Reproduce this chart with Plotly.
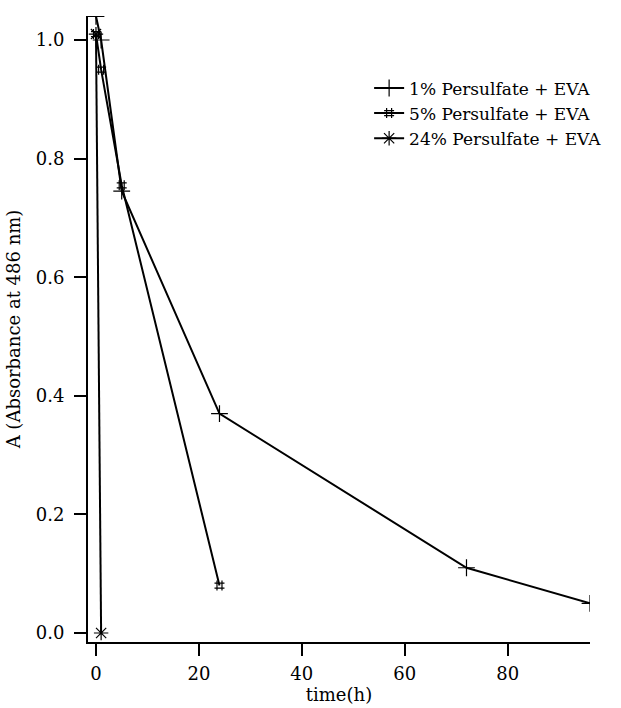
import plotly.graph_objects as go

# Data
t_1pct = [0, 1, 5, 24, 72, 96]
a_1pct = [1.04, 1.0, 0.745, 0.37, 0.11, 0.05]

t_5pct = [0, 1, 5, 24]
a_5pct = [1.01, 0.95, 0.755, 0.08]

t_24pct = [0, 1]
a_24pct = [1.01, 0.0]

x_ticks = [0, 20, 40, 60, 80]
y_ticks = [0.0, 0.2, 0.4, 0.6, 0.8, 1.0]

FONT = "DejaVu Serif"
fig = go.Figure()

def add(x, y, name, symbol, size):
    fig.add_trace(go.Scatter(
        x=x, y=y, name=name, mode="lines+markers",
        line=dict(color="black", width=2),
        marker=dict(symbol=symbol, size=size, color="black",
                    line=dict(color="black", width=1.2)),
    ))

add(t_1pct, a_1pct, "1% Persulfate + EVA", "cross-thin-open", 12)
add(t_5pct, a_5pct, "5% Persulfate + EVA", "hash-open", 10)
add(t_24pct, a_24pct, "24% Persulfate + EVA", "asterisk-open", 12)

fig.update_layout(
    width=621, height=708,
    margin=dict(l=88, r=31, t=16, b=66),
    paper_bgcolor="white", plot_bgcolor="white",
    font=dict(family=FONT, size=18, color="black"),
    showlegend=True,
    legend=dict(x=0.56, y=0.913, xanchor="left", yanchor="top",
                bgcolor="rgba(0,0,0,0)", font=dict(family=FONT, size=17),
                tracegroupgap=0, itemwidth=30),
    xaxis=dict(range=[-1.55, 96], tickvals=x_ticks, ticks="outside", ticklen=12,
               tickwidth=2, tickcolor="black", showline=True, linecolor="black",
               linewidth=2, showgrid=False, zeroline=False, ticklabelstandoff=2,
               automargin=False, tickfont=dict(size=18),
               title=dict(text="time(h)", standoff=2, font=dict(size=18))),
    yaxis=dict(range=[-0.0152, 1.0405], tickvals=y_ticks, tickformat=".1f",
               ticks="outside", ticklen=12, tickwidth=2, tickcolor="black",
               showline=True, linecolor="black", linewidth=2, showgrid=False,
               zeroline=False, ticklabelstandoff=6, automargin=False,
               tickfont=dict(size=18),
               title=dict(text="A (Absorbance at 486 nm)", standoff=10,
                          font=dict(size=18))),
)

fig.write_html("out.html")
